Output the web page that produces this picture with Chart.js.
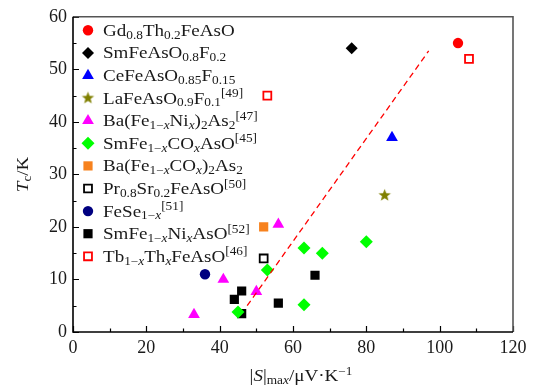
<!DOCTYPE html>
<html>
<head>
<meta charset="utf-8">
<script src="https://cdn.jsdelivr.net/npm/chart.js@4.4.1/dist/chart.umd.min.js"></script>
<style>
html, body { margin: 0; padding: 0; background: #fff; }
#wrap { width: 536px; height: 390px; }
</style>
</head>
<body>
<div id="wrap"><canvas id="chart" width="536" height="390"></canvas></div>
<script>
// series names (markup: _{..} sub, ^{..} sup)
var names = [
    "Gd_{0.8}Th_{0.2}FeAsO",
    "SmFeAsO_{0.8}F_{0.2}",
    "CeFeAsO_{0.85}F_{0.15}",
    "LaFeAsO_{0.9}F_{0.1}^{[49]}",
    "Ba(Fe_{1\u2212x}Ni_{x})_{2}As_{2}^{[47]}",
    "SmFe_{1\u2212x}CO_{x}AsO^{[45]}",
    "Ba(Fe_{1\u2212x}CO_{x})_{2}As_{2}",
    "Pr_{0.8}Sr_{0.2}FeAsO^{[50]}",
    "FeSe_{1\u2212x}^{[51]}",
    "SmFe_{1\u2212x}Ni_{x}AsO^{[52]}",
    "Tb_{1\u2212x}Th_{x}FeAsO^{[46]}"
];

// |S|max values (uV/K) and Tc (K) per series
var gdS = [105],   gdTc = [55];
var smfS = [76],   smfTc = [54];
var ceS = [87],    ceTc = [37];
var laS = [85],    laTc = [26];
var baNiS = [33, 41, 50, 56],   baNiTc = [3.3, 10, 7.7, 20.5];
var smCoS = [45, 53, 63, 63, 68, 80],   smCoTc = [3.8, 11.8, 16, 5.2, 15, 17.2];
var baCoS = [52],  baCoTc = [20];
var prS = [52],    prTc = [14];
var feSeS = [36],  feSeTc = [11];
var smNiS = [44, 46, 46, 56, 66],   smNiTc = [6.2, 7.8, 3.5, 5.5, 10.8];
var tbS = [53, 108],   tbTc = [45, 52];

// dashed guide line
var fitS = [47.5, 97], fitTc = [5, 53.5];

var xTicks = [0, 20, 40, 60, 80, 100, 120];
var yTicks = [0, 10, 20, 30, 40, 50, 60];

var FONT = "'Liberation Serif', 'DejaVu Serif', serif";
var TXT = "#1a1a1a";
var STRETCH = 1.12;

function pts(xs, ys) {
    return xs.map(function (v, i) { return { x: v, y: ys[i] }; });
}

// filled five-point star
function makeStar(color, r) {
    var c = document.createElement("canvas");
    var s = Math.ceil(r * 2 + 2);
    c.width = s; c.height = s;
    var g = c.getContext("2d");
    g.fillStyle = color;
    g.beginPath();
    for (var i = 0; i < 10; i++) {
        var rr = i % 2 ? r * 0.42 : r;
        var a = -Math.PI / 2 + i * Math.PI / 5;
        g.lineTo(s / 2 + rr * Math.cos(a), s / 2 + rr * Math.sin(a));
    }
    g.closePath();
    g.fill();
    return c;
}
var star = makeStar("#808000", 6.5);

var styles = [
    { style: "circle",   r: 5.2, bg: "#ff0000", bd: "#ff0000", bw: 0 },
    { style: "rectRot",  r: 6,   bg: "#000000", bd: "#000000", bw: 0 },
    { style: "triangle", r: 6.8, bg: "#0000ff", bd: "#0000ff", bw: 0 },
    { style: star,       r: 7,   bg: "#808000", bd: "#808000", bw: 0 },
    { style: "triangle", r: 6.8, bg: "#ff00ff", bd: "#ff00ff", bw: 0 },
    { style: "rectRot",  r: 6.5, bg: "#00ff00", bd: "#00ff00", bw: 0 },
    { style: "rect",     r: 6.5, bg: "#f7821e", bd: "#f7821e", bw: 0 },
    { style: "rect",     r: 5.6, bg: "#ffffff", bd: "#000000", bw: 1.8 },
    { style: "circle",   r: 5.2, bg: "#000080", bd: "#000080", bw: 0 },
    { style: "rect",     r: 6.5, bg: "#000000", bd: "#000000", bw: 0 },
    { style: "rect",     r: 5.6, bg: "#ffffff", bd: "#ff0000", bw: 1.8 }
];

var series = [
    pts(gdS, gdTc), pts(smfS, smfTc), pts(ceS, ceTc), pts(laS, laTc),
    pts(baNiS, baNiTc), pts(smCoS, smCoTc), pts(baCoS, baCoTc), pts(prS, prTc),
    pts(feSeS, feSeTc), pts(smNiS, smNiTc), pts(tbS, tbTc)
];

var datasets = [{
    type: "line",
    label: "fit",
    data: pts(fitS, fitTc),
    borderColor: "#ff0000",
    borderWidth: 1.3,
    borderDash: [6, 4],
    pointRadius: 0,
    fill: false
}];
series.forEach(function (d, i) {
    var st = styles[i];
    datasets.push({
        type: "scatter",
        label: names[i],
        data: d,
        pointStyle: st.style,
        pointRadius: st.r,
        pointHoverRadius: st.r,
        backgroundColor: st.bg,
        borderColor: st.bd,
        borderWidth: st.bw
    });
});

// draw text with _{sub}, ^{sup}, ~{italic}; stretched a bit to look like CM
function drawRich(ctx, str, x, y, size, measureOnly) {
    var re = /(_\{[^}]*\}|\^\{[^}]*\}|~\{[^}]*\}|[^_^~]+)/g, m, cx = 0;
    ctx.save();
    ctx.translate(x, y);
    ctx.scale(STRETCH, 1);
    while ((m = re.exec(str))) {
        var t = m[0], mode = "n";
        if (t[0] === "_") { mode = "sub"; t = t.slice(2, -1); }
        else if (t[0] === "^") { mode = "sup"; t = t.slice(2, -1); }
        else if (t[0] === "~") { mode = "it"; t = t.slice(2, -1); }
        var fs = mode === "sub" || mode === "sup" ? size * 0.7 : size;
        var dy = mode === "sub" ? size * 0.17 : mode === "sup" ? -size * 0.38 : 0;
        for (var k = 0; k < t.length; k++) {
            var ch = t[k];
            var it = mode === "it" || (mode !== "n" && ch === "x");
            ctx.font = (it ? "italic " : "") + fs + "px " + FONT;
            if (!measureOnly) ctx.fillText(ch, cx, dy);
            cx += ctx.measureText(ch).width;
        }
    }
    ctx.restore();
    return cx * STRETCH;
}

var decor = {
    id: "decor",
    afterDraw: function (chart) {
        var ctx = chart.ctx, a = chart.chartArea;
        var xs = chart.scales.x, ys = chart.scales.y;
        ctx.save();
        // inward ticks
        ctx.strokeStyle = "#000";
        ctx.lineWidth = 1.2;
        ctx.beginPath();
        for (var v = 0; v <= 120; v += 10) {
            var px = Math.round(xs.getPixelForValue(v)) + 0.5;
            var len = v % 20 === 0 ? 6 : 3.5;
            ctx.moveTo(px, a.bottom); ctx.lineTo(px, a.bottom - len);
        }
        for (var w = 0; w <= 60; w += 5) {
            var py = Math.round(ys.getPixelForValue(w)) + 0.5;
            var l2 = w % 10 === 0 ? 6 : 3.5;
            ctx.moveTo(a.left, py); ctx.lineTo(a.left + l2, py);
        }
        ctx.stroke();
        // frame
        ctx.lineWidth = 1.6;
        ctx.strokeStyle = "#555";
        ctx.beginPath();
        ctx.moveTo(a.left, a.top); ctx.lineTo(a.right, a.top); ctx.lineTo(a.right, a.bottom);
        ctx.stroke();
        ctx.strokeStyle = "#000";
        ctx.beginPath();
        ctx.moveTo(a.left, a.top); ctx.lineTo(a.left, a.bottom); ctx.lineTo(a.right, a.bottom);
        ctx.stroke();

        // legend
        ctx.fillStyle = TXT;
        ctx.textBaseline = "alphabetic";
        ctx.textAlign = "left";
        for (var i = 0; i < names.length; i++) {
            var st = styles[i];
            var ly = a.top + 13.5 + i * 22.6;
            ctx.save();
            ctx.fillStyle = st.bg;
            ctx.strokeStyle = st.bd;
            ctx.lineWidth = st.bw;
            Chart.helpers.drawPoint(ctx, { pointStyle: st.style, radius: st.r, rotation: 0, borderWidth: st.bw }, 88, ly);
            ctx.restore();
            drawRich(ctx, names[i], 103, ly + 5.5, 17);
        }

        // axis titles
        var xt = "|~{S}|_{max}/\u03bcV\u00b7K^{\u22121}";
        var wx = drawRich(ctx, xt, 0, 0, 17, true);
        drawRich(ctx, xt, 301 - wx / 2, 381, 17);
        ctx.translate(28, (a.top + a.bottom) / 2);
        ctx.rotate(-Math.PI / 2);
        var yt = "~{T}_{c}/K";
        var wy = drawRich(ctx, yt, 0, 0, 17, true);
        drawRich(ctx, yt, -wy / 2, 0, 17);
        ctx.restore();
    }
};

new Chart(document.getElementById("chart"), {
    data: { datasets: datasets },
    options: {
        responsive: false,
        animation: false,
        events: [],
        layout: { padding: { top: 15, right: 23, left: 0, bottom: 0 } },
        plugins: { legend: { display: false }, tooltip: { enabled: false } },
        scales: {
            x: {
                type: "linear", min: 0, max: 120,
                afterBuildTicks: function (s) { s.ticks = xTicks.map(function (v) { return { value: v }; }); },
                afterFit: function (s) { s.height = 58; },
                ticks: { color: TXT, font: { family: FONT, size: 18 }, padding: 5, maxRotation: 0 },
                grid: { display: false, drawTicks: false },
                border: { display: false }
            },
            y: {
                type: "linear", min: 0, max: 60,
                afterBuildTicks: function (s) { s.ticks = yTicks.map(function (v) { return { value: v }; }); },
                afterFit: function (s) { s.width = 73; },
                ticks: { color: TXT, font: { family: FONT, size: 18 }, padding: 6 },
                grid: { display: false, drawTicks: false },
                border: { display: false }
            }
        }
    },
    plugins: [decor]
});
</script>
</body>
</html>
